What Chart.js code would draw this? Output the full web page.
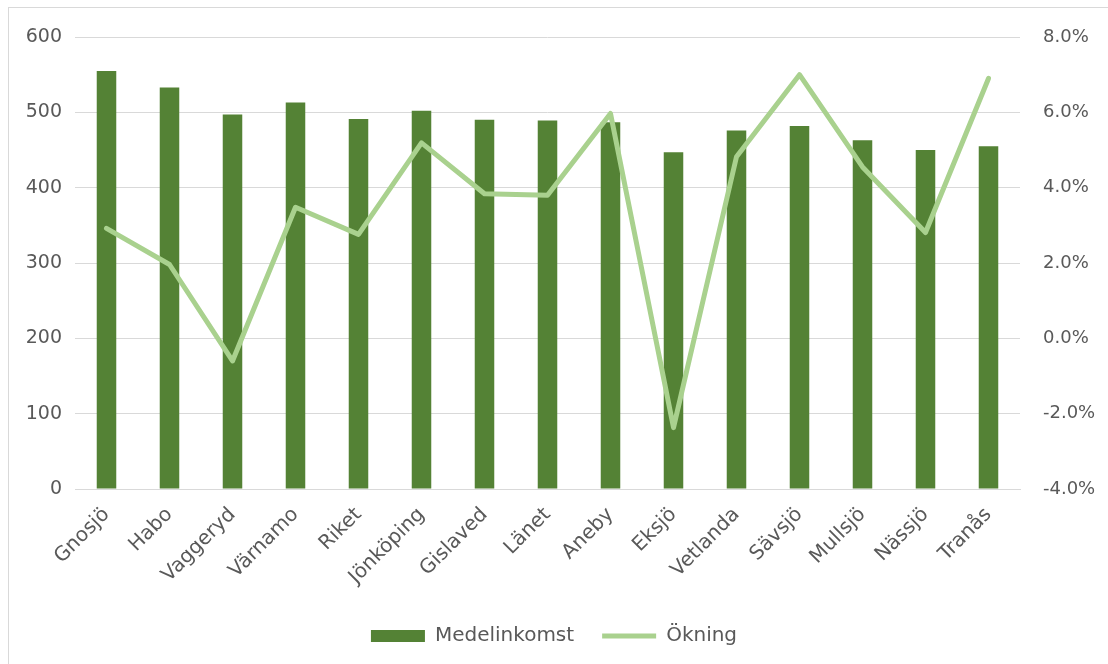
<!DOCTYPE html>
<html>
<head>
<meta charset="utf-8">
<script src="https://cdn.jsdelivr.net/npm/chart.js@4/dist/chart.umd.min.js"></script>
<style>
    body { margin: 0; background: #fff; }
    #wrap { position: relative; width: 1108px; height: 664px; }
    #frame { position: absolute; left: 8px; top: 7px; right: -2px; bottom: -2px; border-left: 1px solid #d9d9d9; border-top: 1px solid #d9d9d9; }
    #chart { position: absolute; left: 0; top: 0; }
</style>
</head>
<body>
<div id="wrap">
    <div id="frame"></div>
    <canvas id="chart" width="1108" height="664"></canvas>
</div>
<script>
const kommuner = ['Gnosjö', 'Habo', 'Vaggeryd', 'Värnamo', 'Riket', 'Jönköping', 'Gislaved', 'Länet',
    'Aneby', 'Eksjö', 'Vetlanda', 'Sävsjö', 'Mullsjö', 'Nässjö', 'Tranås'];
const medelinkomst = [555, 533, 497, 513, 491, 502, 490, 489, 487, 447, 476, 482, 463, 450, 455];
const okning = [2.92, 1.96, -0.6, 3.48, 2.76, 5.19, 3.84, 3.8, 5.97, -2.37, 4.82, 7.0, 4.55, 2.81, 6.9];

const textColor = '#595959';
const gridColor = '#d9d9d9';
const fontFamily = '"DejaVu Sans", sans-serif';

const ctx = document.getElementById('chart').getContext('2d');

new Chart(ctx, {
    type: 'bar',
    data: {
        labels: kommuner,
        datasets: [
            {
                type: 'line',
                label: 'Ökning',
                data: okning,
                yAxisID: 'y1',
                borderColor: '#a9d18e',
                backgroundColor: '#a9d18e',
                borderWidth: 5,
                borderCapStyle: 'round',
                borderJoinStyle: 'round',
                pointRadius: 0,
                pointStyle: 'line',
                tension: 0,
                order: 1
            },
            {
                label: 'Medelinkomst',
                data: medelinkomst,
                yAxisID: 'y',
                backgroundColor: '#548235',
                borderWidth: 0,
                barPercentage: 0.31,
                categoryPercentage: 1,
                pointStyle: 'rect',
                order: 2
            }
        ]
    },
    options: {
        responsive: false,
        animation: false,
        layout: { padding: { top: 37, bottom: 8 } },
        scales: {
            x: {
                grid: { display: false },
                border: { color: gridColor },
                ticks: {
                    color: textColor,
                    font: { family: fontFamily, size: 20 },
                    minRotation: 45,
                    maxRotation: 45,
                    padding: 6
                },
                afterFit(scale) { scale.height = 109; }
            },
            y: {
                position: 'left',
                min: 0,
                max: 600,
                grid: { color: gridColor, drawTicks: false },
                border: { display: false },
                ticks: {
                    stepSize: 100,
                    color: textColor,
                    font: { family: fontFamily, size: 19 },
                    padding: 13
                },
                afterFit(scale) { scale.width = 75; }
            },
            y1: {
                position: 'right',
                min: -4,
                max: 8,
                grid: { display: false, drawTicks: false },
                border: { display: false },
                ticks: {
                    stepSize: 2,
                    color: textColor,
                    font: { family: fontFamily, size: 18 },
                    padding: 23,
                    callback: v => v.toFixed(1) + '%'
                },
                afterFit(scale) { scale.width = 88; }
            }
        },
        plugins: {
            legend: {
                position: 'bottom',
                reverse: true,
                labels: {
                    color: textColor,
                    font: { family: fontFamily, size: 20 },
                    usePointStyle: true,
                    pointStyleWidth: 54,
                    boxHeight: 12,
                    padding: 28
                }
            },
            tooltip: { enabled: false }
        }
    }
});
</script>
</body>
</html>
